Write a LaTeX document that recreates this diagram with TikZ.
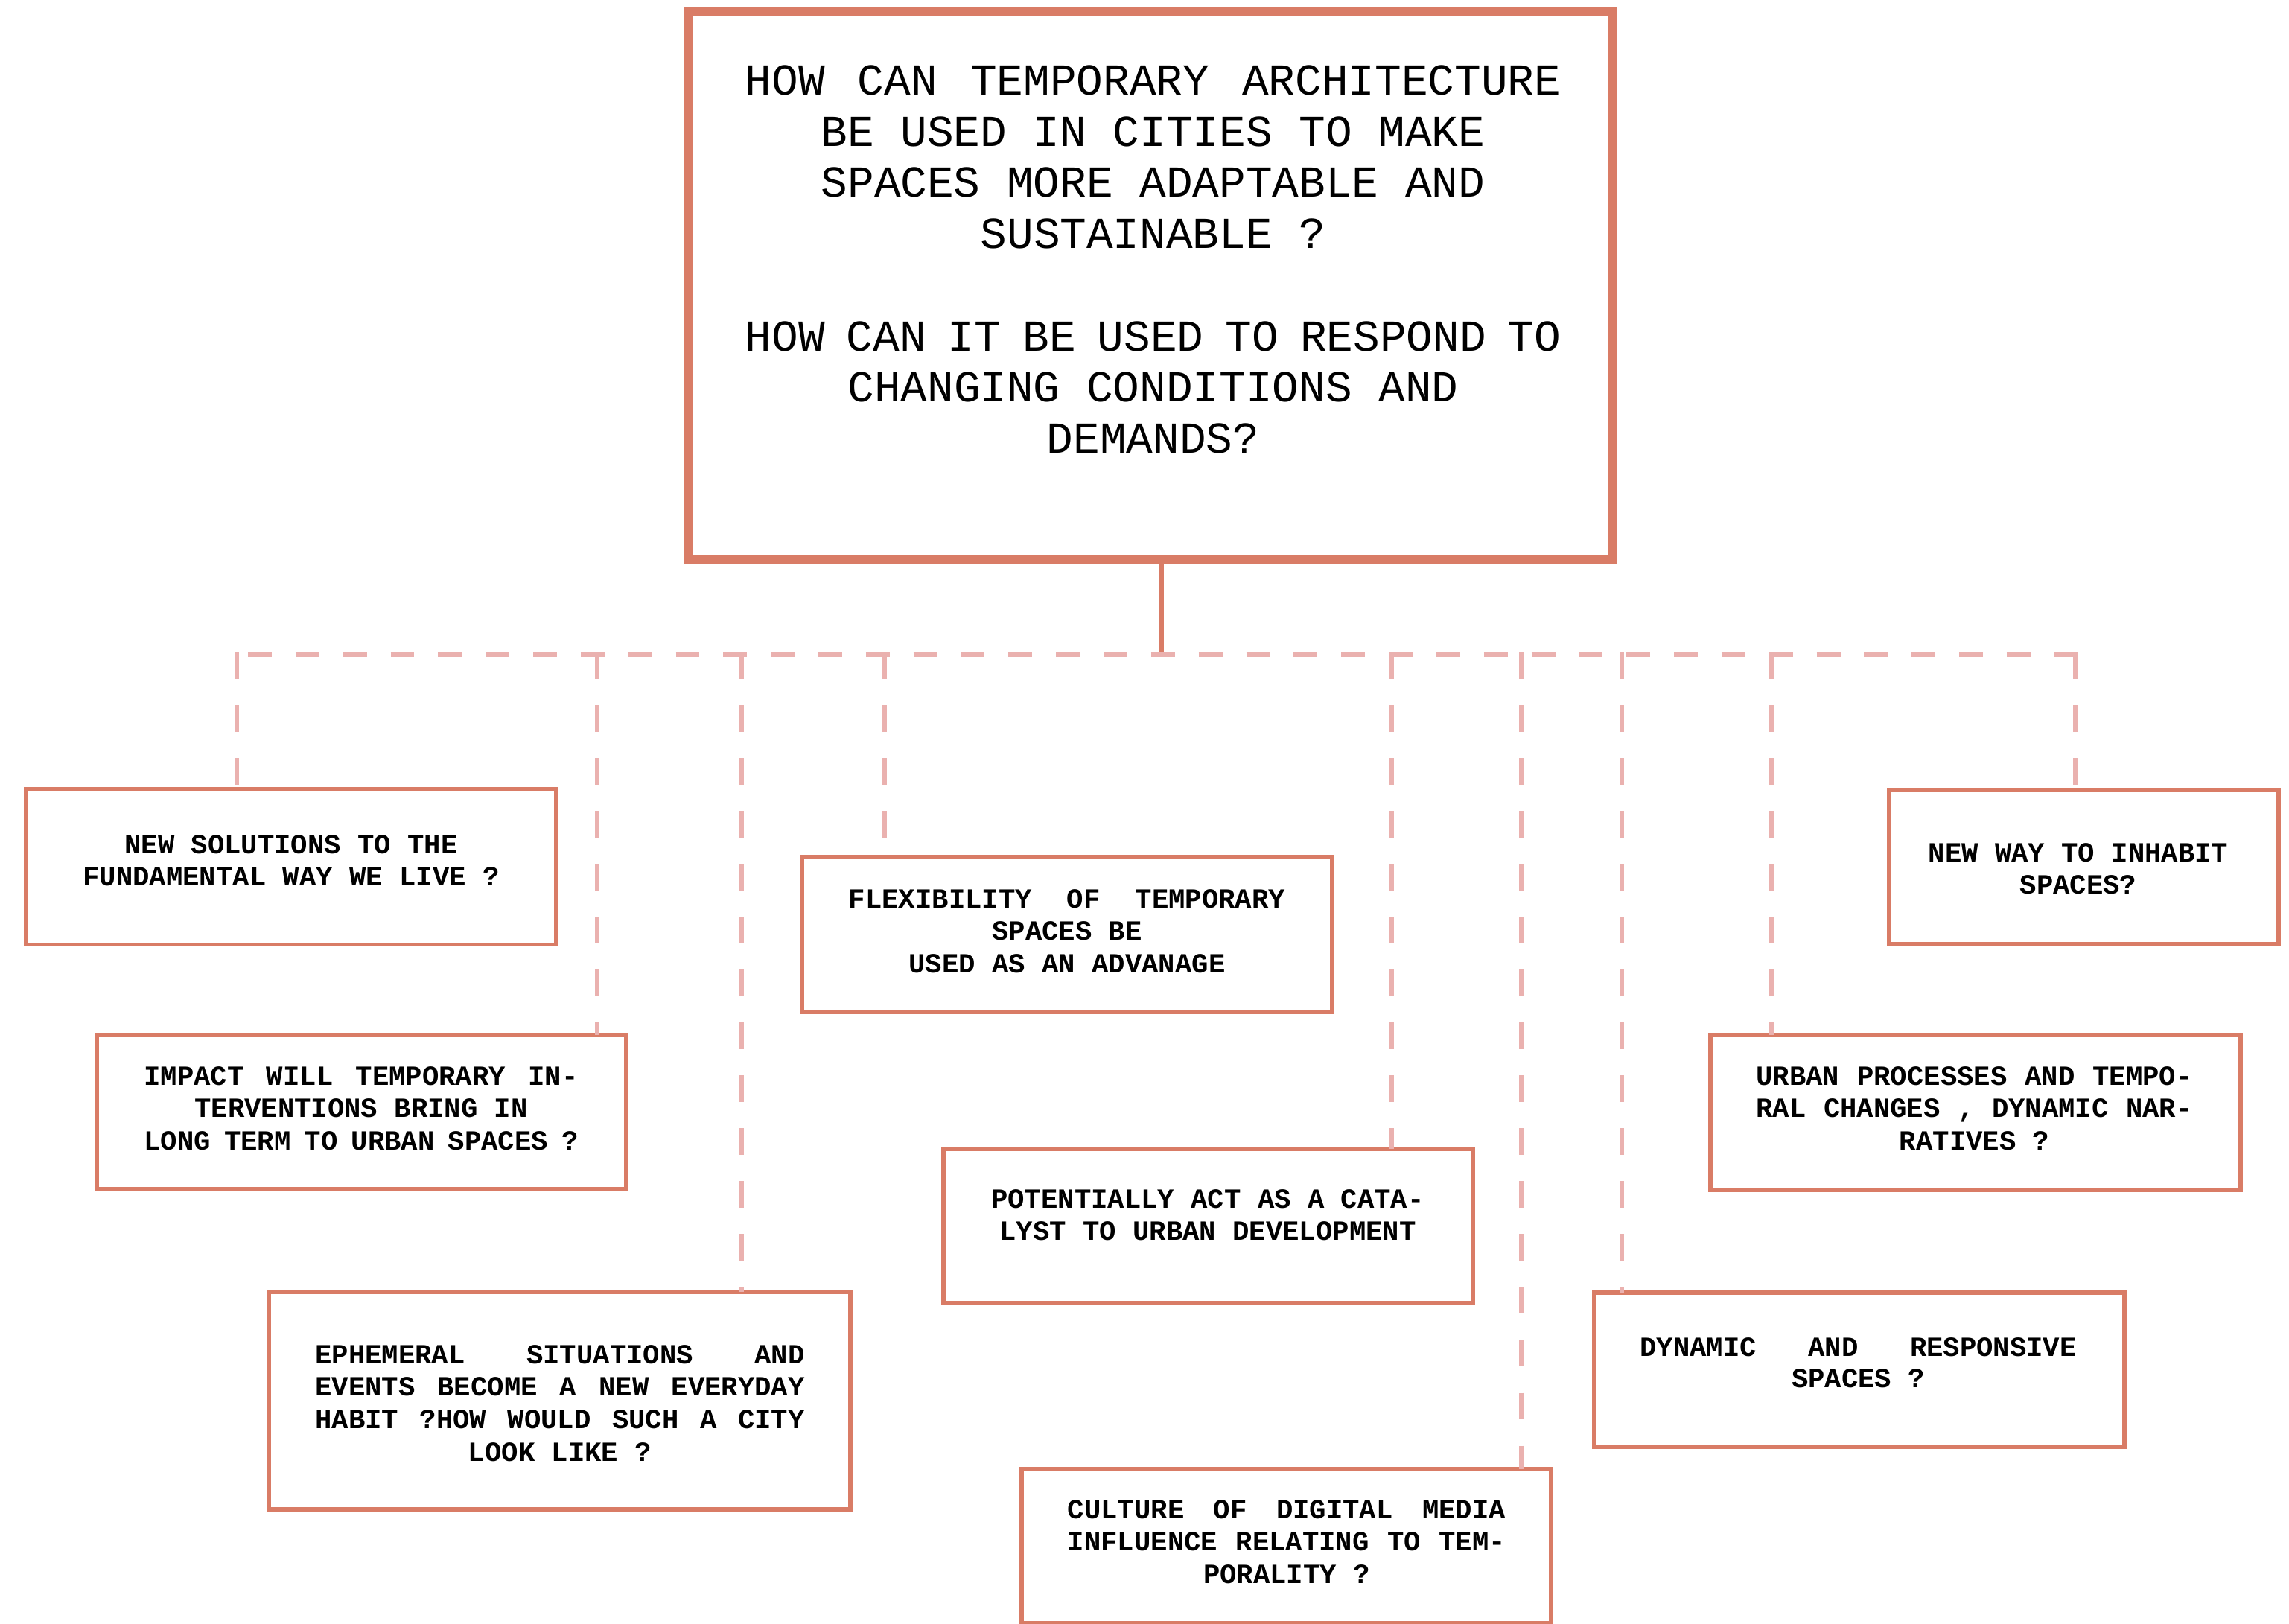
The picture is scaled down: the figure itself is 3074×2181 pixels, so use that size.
\documentclass[tikz,border=0pt]{standalone}
\usepackage{fontspec}
\newfontfamily\qmono{Liberation Mono}
\definecolor{boxc}{RGB}{217,124,102}
\definecolor{dashc}{RGB}{234,177,175}
\newcommand{\cl}[1]{\hbox to \hsize{\hss#1\hss}}
\newcommand{\jl}[1]{\hbox to \hsize{#1}}
\newcommand{\tblock}[3]{\vtop{\hsize=#1\relax\baselineskip=#2\relax\lineskiplimit=-\maxdimen\lineskip=0pt\relax #3}}
\begin{document}
\begin{tikzpicture}[x=0.01cm,y=-0.01cm,
  qbox/.style={draw=boxc, line width=0.12cm, inner sep=0pt, outer sep=0pt, minimum width=12.41cm, minimum height=7.36cm},
  sbox/.style={draw=boxc, line width=0.058cm, inner sep=0pt, outer sep=0pt, minimum width=7.11cm, minimum height=2.07cm},
  qtext/.style={font={\qmono\fontsize{16.9pt}{19.55pt}\selectfont}, inner sep=0pt, anchor=base},
  stext/.style={font={\qmono\bfseries\fontsize{10.6pt}{12.5pt}\selectfont}, inner sep=0pt, anchor=base},
  mainline/.style={draw=boxc, line width=0.065cm},
  busline/.style={draw=dashc, line width=0.065cm, dash pattern=on 0.319cm off 0.319cm, dash phase=0.488cm},
  stemline/.style={draw=dashc, line width=0.065cm, dash pattern=on 0.355cm off 0.355cm}]
\fill[white] (0,0) rectangle (3074,2181);
\useasboundingbox (0,0) rectangle (3074,2181);

% main question
\node[qbox] (q) at (1544.5,384) {};
\node[qtext] (qt) at (1548.5,127.4) {\tblock{10.95cm}{19.55pt}{%
 \jl{HOW\hfill CAN\hfill TEMPORARY\hfill ARCHITECTURE}
 \cl{BE USED IN CITIES TO MAKE}
 \cl{SPACES MORE ADAPTABLE AND}
 \cl{SUSTAINABLE ?}
 \cl{}
 \jl{HOW\hfill CAN\hfill IT\hfill BE\hfill USED\hfill TO\hfill RESPOND\hfill TO}
 \cl{CHANGING CONDITIONS AND}
 \cl{DEMANDS?}}};

% sub boxes
\node[sbox, minimum width=7.12cm, minimum height=2.09cm] (b1) at (391,1164) {};
\node[stext] (t1) at (391,1146) {\tblock{6.0cm}{12.5pt}{%
 \cl{NEW SOLUTIONS TO THE}
 \cl{FUNDAMENTAL WAY WE LIVE ?}}};

\node[sbox] (b2) at (485.5,1493.5) {};
\node[stext] (t2) at (485,1457) {\tblock{5.83cm}{12.5pt}{%
 \jl{IMPACT\hfill WILL\hfill TEMPORARY\hfill IN-}
 \cl{TERVENTIONS BRING IN}
 \jl{LONG\hfill TERM\hfill TO\hfill URBAN\hfill SPACES\hfill ?}}};

\node[sbox, minimum width=7.81cm, minimum height=2.92cm] (b3) at (751.5,1881) {};
\node[stext] (t3) at (752,1831) {\tblock{6.57cm}{12.45pt}{%
 \jl{EPHEMERAL\hfill SITUATIONS\hfill AND}
 \jl{EVENTS\hfill BECOME\hfill A\hfill NEW\hfill EVERYDAY}
 \jl{HABIT\hfill ?HOW\hfill WOULD\hfill SUCH\hfill A\hfill CITY}
 \cl{LOOK LIKE ?}}};

\node[sbox, minimum width=7.12cm, minimum height=2.08cm] (b4) at (1433,1255) {};
\node[stext] (t4) at (1433,1219) {\tblock{5.86cm}{12.4pt}{%
 \jl{FLEXIBILITY\hfill OF\hfill TEMPORARY}
 \cl{SPACES BE}
 \cl{USED AS AN ADVANAGE}}};

\node[sbox] (b5) at (1622.5,1646.5) {};
\node[stext] (t5) at (1622,1622) {\tblock{5.86cm}{12.5pt}{%
 \cl{POTENTIALLY ACT AS A CATA-}
 \cl{LYST TO URBAN DEVELOPMENT}}};

\node[sbox] (b6) at (1727.5,2076.5) {};
\node[stext] (t6) at (1728,2039) {\tblock{5.88cm}{12.5pt}{%
 \jl{CULTURE\hfill OF\hfill DIGITAL\hfill MEDIA}
 \jl{INFLUENCE\hfill RELATING\hfill TO\hfill TEM-}
 \cl{PORALITY ?}}};

\node[sbox, minimum width=7.12cm] (b7) at (2497,1839.5) {};
\node[stext] (t7) at (2495.6,1821) {\tblock{5.86cm}{12.1pt}{%
 \jl{DYNAMIC\hfill AND\hfill RESPONSIVE}
 \cl{SPACES ?}}};

\node[sbox, minimum width=7.12cm, minimum height=2.08cm] (b8) at (2653,1494) {};
\node[stext] (t8) at (2651.6,1457) {\tblock{5.86cm}{12.5pt}{%
 \jl{URBAN\hfill PROCESSES\hfill AND\hfill TEMPO-}
 \jl{RAL\hfill CHANGES\hfill ,\hfill DYNAMIC\hfill NAR-}
 \cl{RATIVES ?}}};

\node[sbox, minimum width=5.23cm] (b9) at (2798.5,1164.5) {};
\node[stext] (t9) at (2791,1157) {\tblock{4.5cm}{12.5pt}{%
 \cl{NEW WAY TO INHABIT}
 \cl{SPACES?}}};

% bus coordinates
\coordinate (hub) at (1560,879);
\coordinate (s1) at (318,879);
\coordinate (s2) at (802,879);
\coordinate (s3) at (996,879);
\coordinate (s4) at (1188,879);
\coordinate (s5) at (1869,879);
\coordinate (s6) at (2043,879);
\coordinate (s7) at (2178,879);
\coordinate (s8) at (2379,879);
\coordinate (s9) at (2787,879);

% connectors
\draw[mainline] (hub |- q.south) -- (hub);
\draw[busline] (s1) -- (s9);
\foreach \i in {1,...,9}{
  \draw[stemline] ([yshift=0.03cm]s\i) -- (s\i |- b\i.north);
}
\end{tikzpicture}
\end{document}
